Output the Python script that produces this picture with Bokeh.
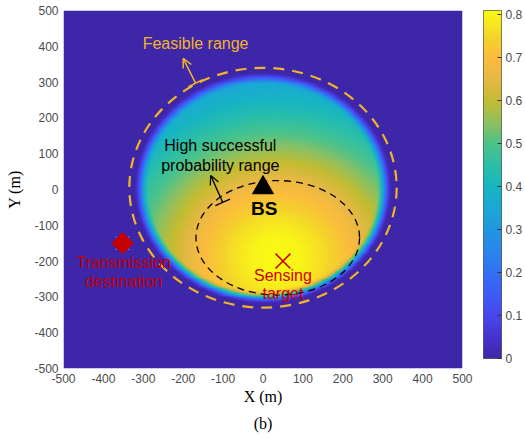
import numpy as np
from bokeh.plotting import figure
from bokeh.layouts import row
from bokeh.models import (LinearColorMapper, FixedTicker, Arrow, OpenHead, TeeHead, Title)
from bokeh.embed import file_html
from bokeh.resources import INLINE
from bokeh.core.properties import value

# ---------------- data ----------------
x_ticks = [-500, -400, -300, -200, -100, 0, 100, 200, 300, 400, 500]
y_ticks = [-500, -400, -300, -200, -100, 0, 100, 200, 300, 400, 500]
cbar_ticks = [0, 0.1, 0.2, 0.3, 0.4, 0.5, 0.6, 0.7, 0.8]
cbar_labels = ["0", "0.1", "0.2", "0.3", "0.4", "0.5", "0.6", "0.7", "0.8"]
cbar_max = 0.81

# success probability vs distance (m) from the best point
peak_xy = [35, -190]
profile_dist = [0, 60, 120, 200, 283, 330, 382, 430, 482, 560]
profile_prob = [0.81, 0.80, 0.76, 0.68, 0.58, 0.52, 0.46, 0.41, 0.36, 0.30]
# support of the coloured region (feasible disc) and its soft rim
disc_center = [0, 5]
disc_radius = 325
rim_width = 38

feasible_center = [0, 5]
feasible_radius = 335
hsp_center = [37, -135]
hsp_semi_axes = [205, 160]

bs_xy = [0, 5]
target_xy = [50, -200]
dest_xy = [-352, -150]

# colormap (parula)
pal_vals = [0, 0.05, 0.1, 0.15, 0.2, 0.25, 0.3, 0.35, 0.4, 0.45, 0.5, 0.55, 0.6, 0.65, 0.7, 0.75, 0.81]
pal_cols = ['#3e26a8', '#4634d0', '#4747ee', '#3d5cf6', '#3270f3', '#2a86ea', '#2097e0', '#1aa8d5',
            '#17b5c2', '#2bbfa8', '#4cc28a', '#8fc060', '#c3bc30', '#e6b845', '#fbbc3c', '#f4d42a', '#f9fa14']

# ---------------- build palette ----------------
def hex2rgb(h):
    return [int(h[i:i + 2], 16) for i in (1, 3, 5)]

rgb = np.array([hex2rgb(c) for c in pal_cols], dtype=float)
tv = np.linspace(0, cbar_max, 256)
palette = []
for t in tv:
    r = np.interp(t, pal_vals, rgb[:, 0])
    g = np.interp(t, pal_vals, rgb[:, 1])
    b = np.interp(t, pal_vals, rgb[:, 2])
    palette.append('#%02x%02x%02x' % (int(round(r)), int(round(g)), int(round(b))))

# ---------------- field ----------------
N = 400
xs = np.linspace(-500, 500, N)
ys = np.linspace(-500, 500, N)
X, Y = np.meshgrid(xs, ys)
d = np.hypot(X - peak_xy[0], Y - peak_xy[1])
field = np.interp(d, profile_dist, profile_prob)
rr = np.hypot(X - disc_center[0], Y - disc_center[1])
f = np.clip((disc_radius - rr) / rim_width, 0, 1)
f = f * f * (3 - 2 * f)
field = field * f

mapper = LinearColorMapper(palette=palette, low=0, high=cbar_max)

p = figure(frame_width=399, frame_height=358, x_range=(-500, 500), y_range=(-500, 500),
           output_backend="svg", toolbar_location=None,
           min_border_left=63, min_border_top=10, min_border_right=17, min_border_bottom=0)
p.grid.visible = False
p.outline_line_color = None

p.image(image=[field], x=-500, y=-500, dw=1000, dh=1000, color_mapper=mapper)

# feasible range circle
p.ellipse(x=[feasible_center[0]], y=[feasible_center[1]], width=[2 * feasible_radius],
          height=[2 * feasible_radius], fill_color=None, line_color="#f0b429",
          line_width=2.2, line_dash="11 8")
# high success ellipse
p.ellipse(x=[hsp_center[0]], y=[hsp_center[1]], width=[2 * hsp_semi_axes[0]],
          height=[2 * hsp_semi_axes[1]], fill_color=None, line_color="black",
          line_width=1.3, line_dash="7 5")

# markers
p.scatter(x=[dest_xy[0]], y=[dest_xy[1]], marker="x", size=20, line_color="#5a8fd8", line_width=1.0)
p.scatter(x=[dest_xy[0]], y=[dest_xy[1]], marker="square", angle=np.pi / 4, size=15,
          fill_color="#c40000", line_color="#c40000")
p.scatter(x=[bs_xy[0]], y=[bs_xy[1]], marker="triangle", size=21, fill_color="black", line_color="black")
p.scatter(x=[target_xy[0]], y=[target_xy[1]], marker="x", size=21, line_color="#cc0000", line_width=1.6)

# arrows
p.add_layout(Arrow(start=TeeHead(size=16, line_color="#f0b429", line_width=1.5),
                   end=OpenHead(size=9, line_color="#f0b429", line_width=1.5),
                   x_start=-169, y_start=297, x_end=-200, y_end=366,
                   line_color="#f0b429", line_width=1.5))
p.add_layout(Arrow(start=TeeHead(size=16, line_color="black", line_width=1.3),
                   end=OpenHead(size=9, line_color="black", line_width=1.3),
                   x_start=-101, y_start=-36, x_end=-131, y_end=39,
                   line_color="black", line_width=1.3))

font = value("Liberation Sans")
p.text(x=[-169], y=[408], text=["Feasible range"], text_font=font, text_font_size="16px",
       text_color="#f0b429", text_align="center", text_baseline="middle")
p.text(x=[-107, -107], y=[123, 67], text=["High successful", "probability range"], text_font=font,
       text_font_size="16px", text_color="black", text_align="center", text_baseline="middle")
p.text(x=[3], y=[-53], text=["BS"], text_font=font, text_font_size="19px", text_font_style="bold",
       text_color="black", text_align="center", text_baseline="middle")
p.text(x=[50, 50], y=[-240, -291], text=["Sensing", "target"], text_font=font, text_font_size="16px",
       text_color="#cc0000", text_align="center", text_baseline="middle")
p.text(x=[-349, -349], y=[-205, -257], text=["Transmission", "destination"], text_font=font,
       text_font_size="16px", text_color="#c00000", text_align="center", text_baseline="middle")

# axes
for ax, ticks, lab in ((p.xaxis, x_ticks, "X (m)"), (p.yaxis, y_ticks, "Y (m)")):
    ax.ticker = FixedTicker(ticks=ticks)
    ax.major_label_overrides = {t: str(t) for t in ticks}
    ax.axis_label = lab
    ax.axis_label_text_font = "Liberation Serif"
    ax.axis_label_text_font_size = "16px"
    ax.axis_label_text_font_style = "normal"
    ax.axis_label_text_color = "black"
    ax.major_label_text_font = "Liberation Sans"
    ax.major_label_text_font_size = "12px"
    ax.major_label_text_color = "#4a4a4a"
    ax.axis_line_color = None
    ax.major_tick_line_color = None
    ax.major_tick_in = 0
    ax.major_tick_out = 0
    ax.minor_tick_line_color = None
    ax.minor_tick_in = 0
    ax.minor_tick_out = 0
p.xaxis.major_label_standoff = 5
p.xaxis.axis_label_standoff = 2
p.yaxis.major_label_standoff = 5
p.yaxis.axis_label_standoff = 8

p.add_layout(Title(text="(b)", align="center", text_font="Liberation Serif", text_font_size="16px",
                   text_font_style="normal", text_color="black", standoff=11), "below")

# ---------------- colorbar as its own narrow figure ----------------
cbf = figure(frame_width=18, frame_height=348, x_range=(0, 1), y_range=(0, cbar_max),
             x_axis_location=None, y_axis_location="right",
             output_backend="svg", toolbar_location=None,
             min_border_left=4, min_border_top=10, min_border_right=0, min_border_bottom=20)
cbf.grid.visible = False
cbf.image(image=[tv.reshape(-1, 1)], x=0, y=0, dw=1, dh=cbar_max, color_mapper=mapper)
cbf.outline_line_color = "#333333"
cbf.outline_line_width = 0.8
cbf.yaxis.ticker = FixedTicker(ticks=cbar_ticks)
cbf.yaxis.major_label_overrides = dict(zip(cbar_ticks, cbar_labels))
cbf.yaxis.axis_line_color = None
cbf.yaxis.major_tick_in = 4
cbf.yaxis.major_tick_out = 0
cbf.yaxis.major_tick_line_color = "#333333"
cbf.yaxis.minor_tick_line_color = None
cbf.yaxis.major_label_standoff = 4
cbf.yaxis.major_label_text_font = "Liberation Sans"
cbf.yaxis.major_label_text_font_size = "12px"
cbf.yaxis.major_label_text_color = "#4a4a4a"

layout = row(p, cbf)
open("out.html", "w").write(file_html(layout, INLINE))
